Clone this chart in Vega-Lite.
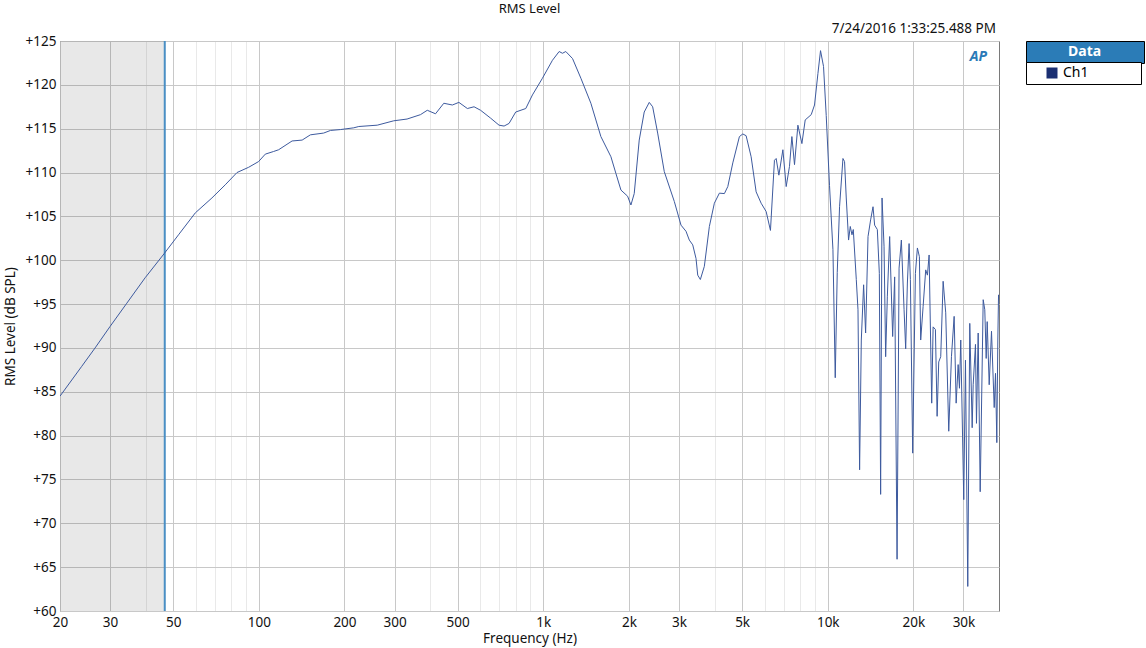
{
  "$schema": "https://vega.github.io/schema/vega-lite/v6.json",
  "width": 939,
  "height": 570,
  "autosize": {"type": "none"},
  "padding": {"left": 60, "top": 41, "right": 147, "bottom": 37},
  "background": "white",
  "config": {
    "font": "Noto Sans",
    "view": {"stroke": "#7a7a7a", "strokeWidth": 1}
  },
  "layer": [
    {
      "data": {"values": [{}]},
      "mark": {"type": "rect", "color": "#000000", "opacity": 0.09},
      "encoding": {
        "x": {"datum": 20, "type": "quantitative"},
        "x2": {"datum": 46.7},
        "y": {"datum": 60, "type": "quantitative"},
        "y2": {"datum": 125}
      }
    },
    {
      "data": {"values": [{}]},
      "mark": {"type": "rule", "color": "#4a8fc4", "strokeWidth": 2},
      "encoding": {
        "x": {"datum": 46.7, "type": "quantitative"},
        "strokeDash": {
          "datum": "Data", "type": "nominal",
          "scale": {"domain": ["Data", "_"], "range": [[1, 0], [1, 0]]},
          "legend": {
            "title": null, "orient": "none", "legendX": 966, "legendY": 0,
            "fillColor": "#2b7cb7", "strokeColor": "#000000", "padding": 4,
            "columns": 2, "columnPadding": 0,
            "symbolSize": 0, "symbolOpacity": 0, "symbolStrokeWidth": 0,
            "labelOffset": 24, "labelFontSize": 14, "labelFontWeight": "bold", "labelColor": "#ffffff",
            "labelExpr": "datum.value == 'Data' ? 'Data' : ''"
          }
        }
      }
    },
    {
      "data": {"values": [
        {"f": 20, "db": 84.5}, {"f": 23.85, "db": 87.9}, {"f": 26.57, "db": 90.0}, {"f": 30.0, "db": 92.45},
        {"f": 34.35, "db": 95.1}, {"f": 39.84, "db": 98.0}, {"f": 46.6, "db": 100.8}, {"f": 52.2, "db": 102.9},
        {"f": 59.8, "db": 105.4}, {"f": 68.4, "db": 107.1}, {"f": 76.2, "db": 108.6}, {"f": 83.8, "db": 110.0},
        {"f": 92.1, "db": 110.6}, {"f": 99.8, "db": 111.25}, {"f": 105.4, "db": 112.1}, {"f": 112.7, "db": 112.4},
        {"f": 117.4, "db": 112.6}, {"f": 130.9, "db": 113.6}, {"f": 142, "db": 113.7}, {"f": 151.8, "db": 114.3},
        {"f": 169, "db": 114.5}, {"f": 178.6, "db": 114.8}, {"f": 193.6, "db": 114.9}, {"f": 215.7, "db": 115.1},
        {"f": 224.6, "db": 115.25}, {"f": 260.8, "db": 115.4}, {"f": 298, "db": 115.9}, {"f": 332, "db": 116.1},
        {"f": 370, "db": 116.6}, {"f": 391, "db": 117.1}, {"f": 418, "db": 116.7}, {"f": 447, "db": 117.9},
        {"f": 479, "db": 117.7}, {"f": 505, "db": 118.0}, {"f": 541, "db": 117.3}, {"f": 571, "db": 117.5},
        {"f": 602, "db": 117.1}, {"f": 653, "db": 116.2}, {"f": 699, "db": 115.4}, {"f": 728, "db": 115.3},
        {"f": 758, "db": 115.6}, {"f": 800, "db": 116.9}, {"f": 868, "db": 117.3}, {"f": 916, "db": 118.85},
        {"f": 993, "db": 120.75}, {"f": 1077, "db": 122.8}, {"f": 1137, "db": 123.8}, {"f": 1168, "db": 123.6},
        {"f": 1200, "db": 123.8}, {"f": 1267, "db": 123.0}, {"f": 1356, "db": 120.75}, {"f": 1470, "db": 117.9},
        {"f": 1594, "db": 114.1}, {"f": 1729, "db": 111.8}, {"f": 1800, "db": 109.9}, {"f": 1875, "db": 108.0},
        {"f": 1979, "db": 107.3}, {"f": 2033, "db": 106.3}, {"f": 2088, "db": 107.6}, {"f": 2174, "db": 113.7},
        {"f": 2264, "db": 116.9}, {"f": 2358, "db": 118.0}, {"f": 2424, "db": 117.5}, {"f": 2524, "db": 114.5},
        {"f": 2663, "db": 110.1}, {"f": 2888, "db": 106.7}, {"f": 3049, "db": 104.0}, {"f": 3175, "db": 103.3},
        {"f": 3261, "db": 102.3}, {"f": 3353, "db": 101.75}, {"f": 3443, "db": 100.2}, {"f": 3491, "db": 98.3},
        {"f": 3566, "db": 97.8}, {"f": 3683, "db": 99.3}, {"f": 3836, "db": 103.85}, {"f": 3994, "db": 106.5},
        {"f": 4160, "db": 107.65}, {"f": 4332, "db": 107.6}, {"f": 4453, "db": 108.4}, {"f": 4637, "db": 111.1},
        {"f": 4892, "db": 114.1}, {"f": 5028, "db": 114.4}, {"f": 5165, "db": 114.2}, {"f": 5379, "db": 111.8},
        {"f": 5601, "db": 107.8}, {"f": 5833, "db": 106.5}, {"f": 6074, "db": 105.55}, {"f": 6290, "db": 103.4},
        {"f": 6497, "db": 111.4}, {"f": 6587, "db": 111.6}, {"f": 6733, "db": 109.7}, {"f": 6955, "db": 112.6},
        {"f": 7144, "db": 108.4}, {"f": 7337, "db": 110.7}, {"f": 7481, "db": 114.1}, {"f": 7641, "db": 110.9},
        {"f": 7854, "db": 115.4}, {"f": 8113, "db": 113.3}, {"f": 8333, "db": 116.0}, {"f": 8748, "db": 116.6},
        {"f": 8985, "db": 117.7}, {"f": 9236, "db": 121.3}, {"f": 9433, "db": 123.9}, {"f": 9665, "db": 122.1},
        {"f": 9878, "db": 116.5}, {"f": 10146, "db": 108.5}, {"f": 10430, "db": 101.2}, {"f": 10626, "db": 86.6},
        {"f": 10800, "db": 98.6}, {"f": 11003, "db": 106.1}, {"f": 11310, "db": 111.6}, {"f": 11458, "db": 111.25},
        {"f": 11617, "db": 107.1}, {"f": 11836, "db": 102.3}, {"f": 12001, "db": 103.85}, {"f": 12168, "db": 102.9},
        {"f": 12297, "db": 103.5}, {"f": 12600, "db": 97.8}, {"f": 12775, "db": 94.35}, {"f": 12942, "db": 76.1},
        {"f": 13122, "db": 90.9}, {"f": 13369, "db": 97.2}, {"f": 13588, "db": 91.7}, {"f": 13855, "db": 102.7},
        {"f": 14150, "db": 104.6}, {"f": 14428, "db": 106.1}, {"f": 14616, "db": 104.0}, {"f": 14940, "db": 103.5},
        {"f": 15184, "db": 98.5}, {"f": 15345, "db": 73.3}, {"f": 15520, "db": 107.1}, {"f": 15774, "db": 101.6},
        {"f": 15980, "db": 89.0}, {"f": 16202, "db": 95.9}, {"f": 16507, "db": 102.7}, {"f": 16913, "db": 91.3},
        {"f": 17189, "db": 98.1}, {"f": 17527, "db": 65.9}, {"f": 17814, "db": 99.1}, {"f": 18149, "db": 102.3},
        {"f": 18550, "db": 94.35}, {"f": 18792, "db": 89.9}, {"f": 19053, "db": 97.4}, {"f": 19318, "db": 101.9},
        {"f": 19522, "db": 97.8}, {"f": 19890, "db": 78.0}, {"f": 20330, "db": 98.5}, {"f": 20662, "db": 101.4},
        {"f": 21000, "db": 100.4}, {"f": 21222, "db": 90.9}, {"f": 21639, "db": 94.7}, {"f": 22100, "db": 98.9},
        {"f": 22407, "db": 98.3}, {"f": 22718, "db": 100.6}, {"f": 23202, "db": 83.7}, {"f": 23467, "db": 92.4},
        {"f": 23908, "db": 92.1}, {"f": 24240, "db": 82.2}, {"f": 24556, "db": 88.4}, {"f": 24958, "db": 89.0},
        {"f": 25448, "db": 97.6}, {"f": 25990, "db": 94.0}, {"f": 26630, "db": 80.5}, {"f": 27219, "db": 89.0},
        {"f": 27822, "db": 93.6}, {"f": 28277, "db": 83.7}, {"f": 28739, "db": 88.1}, {"f": 29043, "db": 85.4},
        {"f": 29351, "db": 90.9}, {"f": 30073, "db": 72.7}, {"f": 30490, "db": 88.6}, {"f": 31064, "db": 62.8},
        {"f": 31572, "db": 92.8}, {"f": 32192, "db": 80.9}, {"f": 32454, "db": 85.8}, {"f": 33065, "db": 90.4},
        {"f": 33334, "db": 81.4}, {"f": 33797, "db": 91.7}, {"f": 34350, "db": 73.6}, {"f": 35195, "db": 95.5},
        {"f": 35655, "db": 94.35}, {"f": 36062, "db": 88.8}, {"f": 36355, "db": 93.0}, {"f": 36950, "db": 85.8},
        {"f": 37646, "db": 91.9}, {"f": 38478, "db": 83.2}, {"f": 38886, "db": 87.1}, {"f": 39298, "db": 79.2},
        {"f": 39618, "db": 90.9}, {"f": 39850, "db": 96.05}, {"f": 40000, "db": 95.5}
      ]},
      "mark": {"type": "line", "strokeWidth": 1, "clip": true, "interpolate": "linear"},
      "encoding": {
        "x": {
          "field": "f", "type": "quantitative",
          "scale": {"type": "log", "domain": [20, 40000], "nice": false},
          "axis": {
            "title": "Frequency (Hz)", "grid": true, "gridOpacity": 1, "gridWidth": 1,
            "values": [20, 30, 40, 50, 60, 70, 80, 90, 100, 200, 300, 400, 500, 600, 700, 800, 900, 1000, 2000, 3000, 4000, 5000, 6000, 7000, 8000, 9000, 10000, 20000, 30000],
            "labelExpr": "indexof([20,30,50,100,200,300,500,1000,2000,3000,5000,10000,20000,30000], datum.value) >= 0 ? (datum.value >= 1000 ? (datum.value / 1000) + 'k' : datum.value + '') : ''",
            "labelOverlap": false, "labelFlush": false, "labelFontSize": 13.5, "labelColor": "#111111", "labelPadding": 4,
            "ticks": false, "tickSize": 0, "domain": false,
            "gridColor": {"condition": {"test": "indexof([20,30,50,100,200,300,500,1000,2000,3000,5000,10000,20000,30000], datum.value) >= 0", "value": "#c8c8c8"}, "value": "#e9e9e9"},
            "titleFontSize": 13.5, "titleFontWeight": "normal", "titleColor": "#111111", "titleY": 27, "titleBaseline": "middle"
          }
        },
        "y": {
          "field": "db", "type": "quantitative",
          "scale": {"domain": [60, 125], "nice": false, "zero": false},
          "axis": {
            "title": "RMS Level (dB SPL)", "grid": true, "gridOpacity": 1, "gridWidth": 1,
            "values": [60, 65, 70, 75, 80, 85, 90, 95, 100, 105, 110, 115, 120, 125],
            "format": "+d",
            "labelFlush": false, "labelFontSize": 13.5, "labelColor": "#111111", "labelPadding": 4,
            "ticks": false, "tickSize": 0, "domain": false, "gridColor": "#c8c8c8",
            "titleFontSize": 13.5, "titleFontWeight": "normal", "titleColor": "#111111",
            "titleX": -50, "titleY": 285, "titleAngle": -90, "titleBaseline": "middle"
          }
        },
        "color": {
          "datum": "Ch1", "type": "nominal",
          "scale": {"domain": ["Ch1", "_"], "range": ["#3d5a9e", "#3d5a9e"]},
          "legend": {
            "title": null, "orient": "none", "legendX": 966, "legendY": 21,
            "fillColor": "#ffffff", "strokeColor": "#000000", "padding": 4,
            "columns": 2, "columnPadding": 15,
            "symbolType": "square", "symbolSize": 121, "symbolOffset": 15, "symbolStrokeWidth": 0,
            "labelFontSize": 14, "labelColor": "#000000",
            "labelExpr": "datum.value == 'Ch1' ? 'Ch1' : ''",
            "encode": {"symbols": {"update": {"fill": {"value": "#1b2f72"}, "stroke": {"value": "transparent"}, "opacity": {"signal": "datum.value == 'Ch1' ? 1 : 0"}}}}
          }
        }
      }
    },
    {
      "data": {"values": [{}]},
      "mark": {"type": "text", "text": "RMS Level", "align": "center", "baseline": "middle", "dy": -32, "fontSize": 13, "color": "#111111"},
      "encoding": {"x": {"datum": 894.43, "type": "quantitative"}, "y": {"datum": 125, "type": "quantitative"}}
    },
    {
      "data": {"values": [{}]},
      "mark": {"type": "text", "text": "7/24/2016 1:33:25.488 PM", "align": "right", "baseline": "bottom", "dx": -3, "dy": -5, "fontSize": 13.5, "color": "#111111"},
      "encoding": {"x": {"datum": 40000, "type": "quantitative"}, "y": {"datum": 125, "type": "quantitative"}}
    },
    {
      "data": {"values": [{}]},
      "mark": {"type": "text", "text": "AP", "align": "right", "baseline": "middle", "dx": -12, "dy": 16, "fontSize": 14, "fontStyle": "italic", "fontWeight": "bold", "color": "#2a7ab8"},
      "encoding": {"x": {"datum": 40000, "type": "quantitative"}, "y": {"datum": 125, "type": "quantitative"}}
    }
  ]
}
